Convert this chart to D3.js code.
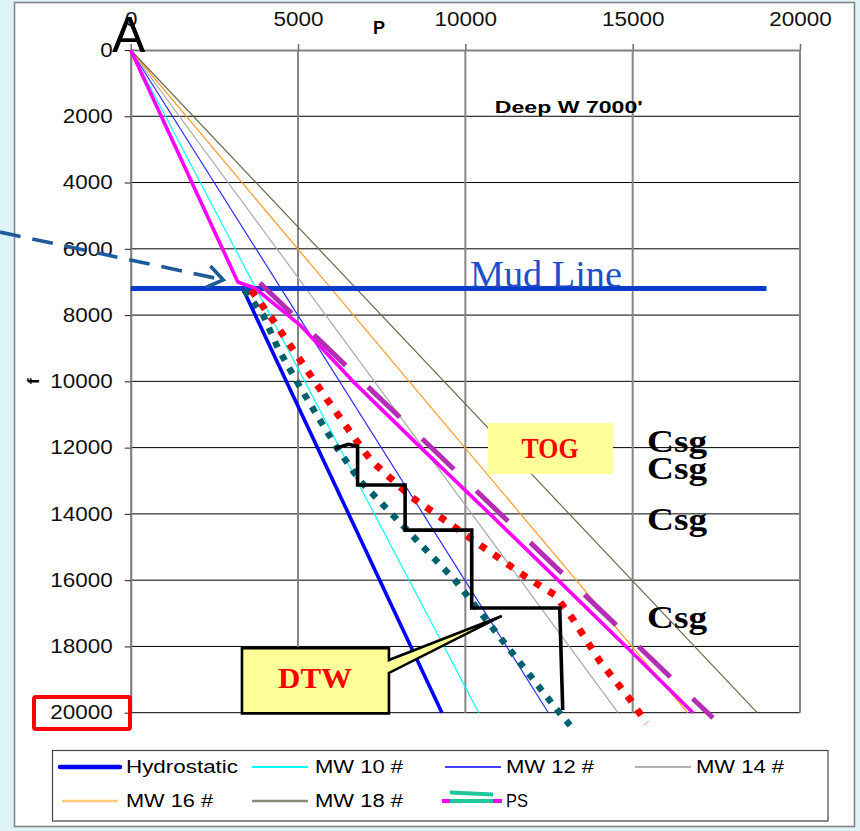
<!DOCTYPE html>
<html><head><meta charset="utf-8">
<script src="https://cdn.jsdelivr.net/npm/d3@7"></script>
<style>html,body{margin:0;padding:0;background:#ddf3f8;}svg{display:block}</style>
</head><body><svg id="c" width="860" height="831"></svg>
<script>
// ---------------- DATA ----------------
const pressureTicks = [0, 5000, 10000, 15000, 20000];
const depthTicks = [0, 2000, 4000, 6000, 8000, 10000, 12000, 14000, 16000, 18000, 20000];

const mwLabels = ["MW 10 #", "MW 12 #", "MW 14 #", "MW 16 #", "MW 18 #"];
const mwStartDepth = 0, mwStartP = 0;
const mwEndDepth = 20000;
const mwEndP = [10400, 12480, 14560, 16640, 18720];

const hydroDepth = [7200, 20000];
const hydroP = [3350, 9300];

const mudLineDepth = 7200;
const mudLineP = [0, 19000];

const psDepth = [0, 7000, 7190, 8300, 10000, 12000, 14000, 16000, 18000, 20000];
const psP = [0, 3200, 3715, 5060, 6640, 8670, 10730, 12770, 14800, 16800];

const psDashDepth = [7030, 20160];
const psDashP = [3860, 17400];

const tealDepth = [7250, 8000, 9000, 10000, 11000, 12000, 13000, 14000, 15000, 16000, 17000, 18000, 19000, 20000, 20380];
const tealP = [3400, 3960, 4400, 4960, 5550, 6160, 6850, 7800, 8740, 9690, 10470, 11250, 12030, 12810, 13130];

const redDepth = [7250, 8150, 9350, 10550, 12150, 12500, 13500, 14300, 15150, 15950, 16450, 17200, 18450, 19600, 20320];
const redP = [3600, 4250, 5060, 5870, 7000, 7300, 8400, 9540, 10740, 11880, 12680, 13230, 14020, 14920, 15420];

const csgStepDepth = [12030, 11900, 11960, 13130, 13130, 14490, 14490, 16840, 16840, 19920];
const csgStepP = [6100, 6500, 6780, 6780, 8200, 8200, 10190, 10190, 12820, 12910];

const csgLabelDepth = [12134, 12949, 14488, 17446];
const legendLabels = ["Hydrostatic", "MW 10 #", "MW 12 #", "MW 14 #", "MW 16 #", "MW 18 #", "PS"];

// ---------------- STYLES ----------------
const mwColors = ["#00ffff", "#2b2bff", "#a8a8a8", "#ff9a26", "#6a6a4c"];
const serif = "'Liberation Serif','Times New Roman',serif";
const sans = "'Liberation Sans',Arial,sans-serif";

const svg = d3.select("#c");
svg.append("rect").attr("width", 860).attr("height", 831).attr("fill", "#ddf3f8");
svg.append("rect").attr("x", 14.5).attr("y", 2.5).attr("width", 840).attr("height", 824)
  .attr("fill", "#fff").attr("stroke", "#858585").attr("stroke-width", 1.6);

const x = d3.scaleLinear().domain([0, 20000]).range([130.7, 800]);
const y = d3.scaleLinear().domain([0, 20000]).range([50, 712.7]);
const line = d3.line().x(d => x(d[0])).y(d => y(d[1]));

// gridlines
svg.append("g").selectAll("line").data(depthTicks.filter(d => d > 0)).join("line")
  .attr("x1", x(0)).attr("x2", x(20000)).attr("y1", d => y(d)).attr("y2", d => y(d))
  .attr("stroke", "#000").attr("stroke-width", 1);
svg.append("g").selectAll("line").data(pressureTicks.filter(d => d > 0)).join("line")
  .attr("x1", d => x(d)).attr("x2", d => x(d)).attr("y1", y(0)).attr("y2", y(20000))
  .attr("stroke", "#868686").attr("stroke-width", 2);

// axes
const tickText = sel => sel.attr("font-family", sans).attr("font-size", 19.5).attr("fill", "#111")
  .attr("textLength", d => String(d).length * 12.5).attr("lengthAdjust", "spacingAndGlyphs");
const gx = svg.append("g").attr("transform", `translate(0,${y(0)})`)
  .call(d3.axisTop(x).tickValues(pressureTicks).tickSize(6).tickSizeOuter(0).tickPadding(18).tickFormat(d3.format("d")));
gx.select(".domain").attr("stroke", "#808080").attr("stroke-width", 2.2);
gx.selectAll(".tick line").attr("stroke", "#707070").attr("stroke-width", 1.5);
gx.selectAll(".tick text").call(tickText);

const gy = svg.append("g").attr("transform", `translate(${x(0)},0)`)
  .call(d3.axisLeft(y).tickValues(depthTicks).tickSize(6).tickSizeOuter(0).tickPadding(12).tickFormat(d3.format("d")));
gy.select(".domain").attr("stroke", "#808080").attr("stroke-width", 2.2);
gy.selectAll(".tick line").attr("stroke", "#222").attr("stroke-width", 1);
gy.selectAll(".tick text").call(tickText);

// MW lines
mwEndP.forEach((p, i) => {
  svg.append("path").attr("d", line([[mwStartP, mwStartDepth], [p, mwEndDepth]]))
    .attr("fill", "none").attr("stroke", mwColors[i]).attr("stroke-width", 1.2);
});
// Hydrostatic
svg.append("path").attr("d", line(d3.zip(hydroP, hydroDepth)))
  .attr("fill", "none").attr("stroke", "#0000ff").attr("stroke-width", 3.6);
// Mud line
svg.append("path").attr("d", line(mudLineP.map(p => [p, mudLineDepth])))
  .attr("fill", "none").attr("stroke", "#0a3ccc").attr("stroke-width", 5);
// PS
svg.append("path").attr("d", line(d3.zip(psP, psDepth)))
  .attr("fill", "none").attr("stroke", "#ff00ff").attr("stroke-width", 3.6).attr("stroke-linejoin", "round");
svg.append("path").attr("d", line(d3.zip(psDashP, psDashDepth)))
  .attr("fill", "none").attr("stroke", "#b42db4").attr("stroke-width", 5).attr("stroke-dasharray", "44,31");
// teal dotted
svg.append("path").attr("d", line(d3.zip(tealP, tealDepth)))
  .attr("fill", "none").attr("stroke", "#00606e").attr("stroke-width", 6.5).attr("stroke-dasharray", "6.5,8.5");
// red dotted
svg.append("path").attr("d", line(d3.zip(redP, redDepth)))
  .attr("fill", "none").attr("stroke", "#ff0000").attr("stroke-width", 7).attr("stroke-dasharray", "7,9.5");
// casing steps
svg.append("path").attr("d", line(d3.zip(csgStepP, csgStepDepth)))
  .attr("fill", "none").attr("stroke", "#000").attr("stroke-width", 3.6).attr("stroke-linejoin", "miter");

// ---------------- ANNOTATIONS ----------------
svg.append("text").attr("x", x(10137)).attr("y", y(7154)).text("Mud Line")
  .attr("font-family", serif).attr("font-size", 37).attr("fill", "#1f4ecb")
  .attr("textLength", 152).attr("lengthAdjust", "spacingAndGlyphs");

svg.append("rect").attr("x", x(10675)).attr("y", y(11259)).attr("width", x(14410) - x(10675)).attr("height", y(12798) - y(11259))
  .attr("fill", "#ffff99");
svg.append("text").attr("x", x(12530)).attr("y", y(12315)).attr("text-anchor", "middle").text("TOG")
  .attr("font-family", serif).attr("font-weight", "bold").attr("font-size", 29).attr("fill", "#ff0000")
  .attr("textLength", 57).attr("lengthAdjust", "spacingAndGlyphs");

csgLabelDepth.forEach(d => {
  svg.append("text").attr("x", x(15430)).attr("y", y(d)).text("Csg")
    .attr("font-family", serif).attr("font-weight", "bold").attr("font-size", 32).attr("fill", "#000")
    .attr("textLength", 60).attr("lengthAdjust", "spacingAndGlyphs");
});

// DTW callout
{
  const L = x(3325), R = x(7717), T = y(18050), B = y(20020);
  const p1 = y(18410), p2 = y(18800), tx = x(11090), ty = y(17080);
  svg.append("path").attr("d", `M${L},${T}H${R}V${p1}L${tx},${ty}L${R},${p2}V${B}H${L}Z`)
    .attr("fill", "#ffff99").attr("stroke", "#000").attr("stroke-width", 2.6).attr("stroke-linejoin", "miter");
  svg.append("text").attr("x", x(5510)).attr("y", y(19257)).attr("text-anchor", "middle").text("DTW")
    .attr("font-family", serif).attr("font-weight", "bold").attr("font-size", 30).attr("fill", "#ff0000")
    .attr("textLength", 74).attr("lengthAdjust", "spacingAndGlyphs");
}

svg.append("text").attr("x", x(10880)).attr("y", y(1902)).text("Deep W 7000'")
  .attr("font-family", sans).attr("font-weight", "bold").attr("font-size", 17).attr("fill", "#000")
  .attr("textLength", 148).attr("lengthAdjust", "spacingAndGlyphs");

// axis titles
svg.append("text").attr("x", 373).attr("y", 34).text("P").attr("font-family", sans).attr("font-weight", "bold").attr("font-size", 18);
svg.append("text").attr("transform", "translate(39,384) rotate(-90)").text("f").attr("font-family", sans).attr("font-weight", "bold").attr("font-size", 17);
svg.append("text").attr("x", 112).attr("y", 52).text("A").attr("font-family", sans).attr("font-size", 50).attr("fill", "#000");

// red box around the 20000 label
svg.append("rect").attr("x", 34).attr("y", 697).attr("width", 96).attr("height", 32).attr("rx", 2)
  .attr("fill", "none").attr("stroke", "#ff0000").attr("stroke-width", 4);

// dashed arrow
{
  const a0 = [x(-3905), y(5494)], a1 = [x(2765), y(6940)];
  const col = "#1f5b98";
  svg.append("line").attr("x1", a0[0]).attr("y1", a0[1]).attr("x2", a1[0] - 4).attr("y2", a1[1] - 1)
    .attr("stroke", col).attr("stroke-width", 3.6).attr("stroke-dasharray", "21,12");
  const ang = Math.atan2(a1[1] - a0[1], a1[0] - a0[0]);
  const len = 19, spread = 0.62;
  const b1 = [a1[0] - len * Math.cos(ang - spread), a1[1] - len * Math.sin(ang - spread)];
  const b2 = [a1[0] - len * Math.cos(ang + spread), a1[1] - len * Math.sin(ang + spread)];
  svg.append("path").attr("d", `M${b1}L${a1}L${b2}`).attr("fill", "none").attr("stroke", col).attr("stroke-width", 3.6);
}

// ---------------- LEGEND ----------------
svg.append("rect").attr("x", 52.5).attr("y", 750.5).attr("width", 775.5).attr("height", 70.5)
  .attr("fill", "#fff").attr("stroke", "#444").attr("stroke-width", 1.2);
const legendItems = [
  {x1: 60, x2: 120, y: 767, tx: 126, ty: 773, w: 112, color: "#0000ee", sw: 4.5},
  {x1: 252, x2: 308, y: 767, tx: 315, ty: 773, w: 88, color: "#00ffff", sw: 2},
  {x1: 445, x2: 501, y: 767, tx: 506, ty: 773, w: 88, color: "#0000ff", sw: 1.5},
  {x1: 635, x2: 691, y: 767, tx: 696, ty: 773, w: 88, color: "#9a9a9a", sw: 1.5},
  {x1: 62, x2: 118, y: 801, tx: 126, ty: 807, w: 87, color: "#ffc878", sw: 2.5},
  {x1: 252, x2: 308, y: 801, tx: 315, ty: 807, w: 88, color: "#8c8c78", sw: 2.5},
  {x1: 442, x2: 502, y: 801, tx: 506, ty: 807, w: 22, color: "#ff00ff", sw: 4}
];
legendItems.forEach((it, i) => {
  svg.append("line").attr("x1", it.x1).attr("x2", it.x2).attr("y1", it.y).attr("y2", it.y)
    .attr("stroke", it.color).attr("stroke-width", it.sw).attr("stroke-linecap", i === 0 ? "round" : "butt");
  svg.append("text").attr("x", it.tx).attr("y", it.ty).text(legendLabels[i])
    .attr("font-family", sans).attr("font-size", 17.5).attr("fill", "#000")
    .attr("textLength", it.w).attr("lengthAdjust", "spacingAndGlyphs");
});
svg.append("line").attr("x1", 450).attr("x2", 493).attr("y1", 801).attr("y2", 801).attr("stroke", "#1fc79a").attr("stroke-width", 4);
svg.append("line").attr("x1", 450).attr("x2", 493).attr("y1", 792.5).attr("y2", 794.5).attr("stroke", "#1fc79a").attr("stroke-width", 4);
</script></body></html>
